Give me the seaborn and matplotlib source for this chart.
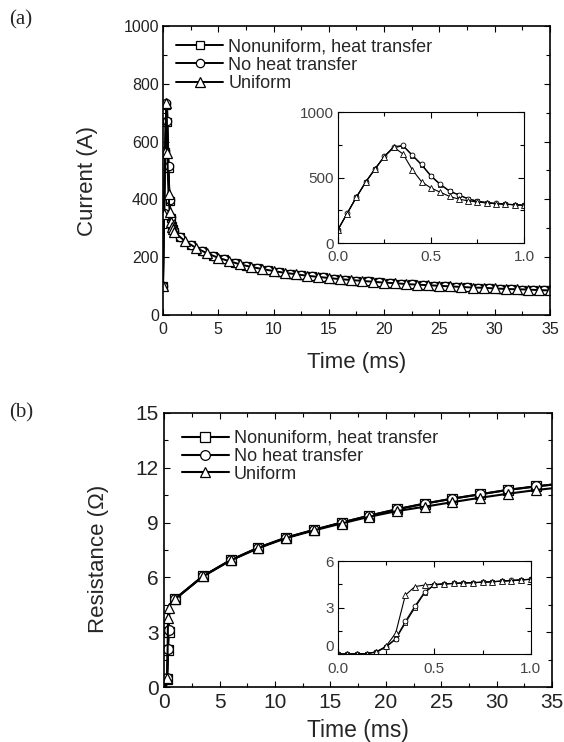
import matplotlib
matplotlib.use("Agg")
import matplotlib.pyplot as plt
import seaborn as sns
from matplotlib.ticker import MultipleLocator

# ---------------- data ----------------
labels = ["Nonuniform, heat transfer", "No heat transfer", "Uniform"]
markers = ["s", "o", "^"]

t_fine = [0.00, 0.05, 0.10, 0.15, 0.20, 0.25, 0.30, 0.35, 0.40, 0.45, 0.50,
          0.55, 0.60, 0.65, 0.70, 0.75, 0.80, 0.85, 0.90, 0.95, 1.00]

# Current (A), 0-1 ms
cur_nonu_fine = [100, 225, 350, 465, 565, 660, 728, 742, 668, 596, 510,
                 446, 395, 366, 336, 318, 308, 301, 296, 292, 288]
cur_noht_fine = [100, 228, 352, 468, 568, 662, 735, 745, 672, 600, 515,
                 450, 398, 368, 338, 320, 309, 302, 297, 293, 289]
cur_uni_fine = [100, 225, 350, 465, 565, 660, 732, 680, 560, 468, 420,
                388, 356, 335, 322, 313, 306, 300, 296, 292, 288]

# Current (A), later times
t_late_int = [2, 3, 4, 5, 6, 7, 8, 9, 10, 11, 12, 13, 14, 15, 16, 17, 18,
              19, 20, 21, 22, 23, 24, 25, 26, 27, 28, 29, 30, 31, 32, 33, 34, 35]
t_late_half = [1.5, 2.5, 3.5, 4.5, 5.5, 6.5, 7.5, 8.5, 9.5, 10.5, 11.5, 12.5,
               13.5, 14.5, 15.5, 16.5, 17.5, 18.5, 19.5, 20.5, 21.5, 22.5, 23.5,
               24.5, 25.5, 26.5, 27.5, 28.5, 29.5, 30.5, 31.5, 32.5, 33.5, 34.5]
cur_uni_late = [255, 232, 213, 198, 186, 175, 166, 159, 152, 146, 141, 136,
                132, 128, 124, 121, 118, 115, 112, 110, 107, 105, 103, 101,
                99, 97, 95, 94, 92, 90, 89, 88, 86, 85]
cur_other_late = [270, 243, 222, 205, 192, 180, 170, 162, 155, 149, 143, 138,
                  134, 130, 126, 122, 119, 116, 113, 111, 108, 106, 104, 102,
                  100, 98, 96, 94, 93, 91, 89, 88, 87, 85]

# Resistance (Ohm), 0-1 ms
res_nonu_fine = [0, 0, 0.01, 0.03, 0.12, 0.45, 0.95, 2.0, 3.0, 3.95, 4.45,
                 4.52, 4.55, 4.58, 4.60, 4.63, 4.66, 4.70, 4.74, 4.78, 4.82]
res_noht_fine = [0, 0, 0.01, 0.03, 0.13, 0.47, 1.0, 2.1, 3.1, 4.0, 4.47,
                 4.53, 4.56, 4.59, 4.61, 4.64, 4.67, 4.71, 4.75, 4.79, 4.83]
res_uni_fine = [0, 0, 0.01, 0.03, 0.15, 0.5, 1.35, 3.8, 4.35, 4.45, 4.50,
                4.52, 4.55, 4.58, 4.60, 4.63, 4.66, 4.70, 4.74, 4.78, 4.82]

# Resistance (Ohm), later times
t_res_late = [3.5, 6, 8.5, 11, 13.5, 16, 18.5, 21, 23.5, 26, 28.5, 31, 33.5, 35]
res_uni_late = [6.05, 6.93, 7.60, 8.15, 8.57, 8.95, 9.32, 9.63, 9.87, 10.12,
                10.36, 10.58, 10.78, 10.88]
res_other_late = [6.07, 6.95, 7.63, 8.18, 8.60, 9.00, 9.38, 9.73, 10.04, 10.31,
                  10.55, 10.79, 10.98, 11.08]

# ---------------- style ----------------
sns.set_style("ticks")
plt.rcParams["font.family"] = ["Liberation Sans", "DejaVu Sans"]

fig = plt.figure(figsize=(5.64, 7.42), dpi=100)
axA = fig.add_axes([0.289, 0.5755, 0.686, 0.3895])
axAi = fig.add_axes([0.599, 0.6725, 0.330, 0.1765])
axB = fig.add_axes([0.291, 0.0741, 0.688, 0.3693])
axBi = fig.add_axes([0.599, 0.1186, 0.342, 0.1253])


def draw(ax, t, y, marker, label, ms, lw, mew, markevery=None):
    kw = {}
    if markevery is not None:
        kw["markevery"] = markevery
    sns.lineplot(x=t, y=y, ax=ax, color="k", marker=marker, markersize=ms,
                 markerfacecolor="white", markeredgecolor="k",
                 markeredgewidth=mew, linewidth=lw, label=label,
                 estimator=None, sort=False, legend=False, **kw)


def style(ax, xmaj, xmin, ymaj, ymin, lsize, pad_x, pad_y, spw, tcolor):
    ax.xaxis.set_major_locator(MultipleLocator(xmaj))
    ax.xaxis.set_minor_locator(MultipleLocator(xmin))
    ax.yaxis.set_major_locator(MultipleLocator(ymaj))
    ax.yaxis.set_minor_locator(MultipleLocator(ymin))
    ax.tick_params(which="both", direction="in", top=True, right=True,
                   width=0.8, colors="k", labelcolor=tcolor, labelsize=lsize)
    ax.tick_params(which="major", length=4)
    ax.tick_params(which="minor", length=3)
    ax.tick_params(axis="x", pad=pad_x)
    ax.tick_params(axis="y", pad=pad_y)
    for s in ax.spines.values():
        s.set_visible(True)
        s.set_linewidth(spw)
        s.set_color("k")
    ax.grid(False)
    ax.set_facecolor("white")


# ---- panel (a) main ----
t_uni_a = t_fine + t_late_int
t_oth_a = t_fine + t_late_half
mev_a = list(range(0, 21, 2)) + list(range(21, 55))
draw(axA, t_oth_a, cur_nonu_fine + cur_other_late, "s", labels[0], 5.5, 1.4, 0.9, mev_a)
draw(axA, t_oth_a, cur_noht_fine + cur_other_late, "o", labels[1], 6, 1.4, 0.9, mev_a)
draw(axA, t_uni_a, cur_uni_fine + cur_uni_late, "^", labels[2], 7, 1.4, 0.9, mev_a)
axA.set_xlim(0, 35)
axA.set_ylim(0, 1000)
style(axA, 5, 2.5, 200, 100, 11.5, 5, 3, 1.2, "#222222")
axA.set_xlabel("Time (ms)", fontsize=16)
axA.set_ylabel("Current (A)", fontsize=16)
axA.xaxis.label.set_va("center")
axA.yaxis.label.set_va("center")
axA.xaxis.set_label_coords(0.5, -0.163)
axA.yaxis.set_label_coords(-0.194, 0.464)
axA.legend(loc="upper left", bbox_to_anchor=(0.034, 0.958), frameon=False,
           fontsize=13, handlelength=2.6, handletextpad=0.28,
           labelspacing=0.08, borderaxespad=0, borderpad=0, numpoints=1)

# ---- panel (a) inset ----
draw(axAi, t_fine, cur_nonu_fine, "s", None, 3.5, 0.8, 0.6)
draw(axAi, t_fine, cur_noht_fine, "o", None, 3.5, 0.8, 0.6)
draw(axAi, t_fine, cur_uni_fine, "^", None, 4, 0.8, 0.6)
axAi.set_xlim(0, 1.0)
axAi.set_ylim(0, 1000)
style(axAi, 0.5, 0.25, 500, 250, 11, 5, 3, 0.8, "#444444")
axAi.set_xlabel("")
axAi.set_ylabel("")

# ---- panel (b) main ----
t_b = t_fine + t_res_late
mev_b = [5, 7, 8, 20] + list(range(21, 34))
draw(axB, t_b, res_nonu_fine + res_other_late, "s", labels[0], 6.5, 1.5, 0.9, mev_b)
draw(axB, t_b, res_noht_fine + res_other_late, "o", labels[1], 7, 1.5, 0.9, mev_b)
draw(axB, t_b, res_uni_fine + res_uni_late, "^", labels[2], 7.5, 1.5, 0.9, mev_b)
axB.set_xlim(0, 35)
axB.set_ylim(0, 15)
style(axB, 5, 2.5, 3, 1.5, 15, 4, 4, 1.2, "#222222")
axB.set_xlabel("Time (ms)", fontsize=16.5)
axB.set_ylabel("Resistance (\u03a9)", fontsize=16)
axB.xaxis.label.set_va("center")
axB.yaxis.label.set_va("center")
axB.xaxis.set_label_coords(0.5, -0.157)
axB.yaxis.set_label_coords(-0.17, 0.467)
axB.legend(loc="upper left", bbox_to_anchor=(0.046, 0.938), frameon=False,
           fontsize=13, handlelength=2.6, handletextpad=0.28,
           labelspacing=0.05, borderaxespad=0, borderpad=0, numpoints=1)

# ---- panel (b) inset ----
draw(axBi, t_fine, res_nonu_fine, "s", None, 3.5, 0.8, 0.6)
draw(axBi, t_fine, res_noht_fine, "o", None, 3.5, 0.8, 0.6)
draw(axBi, t_fine, res_uni_fine, "^", None, 4, 0.8, 0.6)
axBi.set_xlim(0, 1.0)
axBi.set_ylim(0, 6)
style(axBi, 0.5, 0.25, 3, 1.5, 11, 5.5, 3, 0.8, "#444444")
axBi.set_xlabel("")
axBi.set_ylabel("")
# keep the y "0" label clear of the x "0.0" label
for lbl in axBi.get_yticklabels():
    if lbl.get_text() in ("0",):
        lbl.set_va("bottom")

fig.text(0.016, 0.973, "(a)", family=["Liberation Serif", "DejaVu Serif"],
         fontsize=15, va="center", ha="left")
fig.text(0.016, 0.443, "(b)", family=["Liberation Serif", "DejaVu Serif"],
         fontsize=15, va="center", ha="left")

fig.savefig("out.png", dpi=100, facecolor="white")
